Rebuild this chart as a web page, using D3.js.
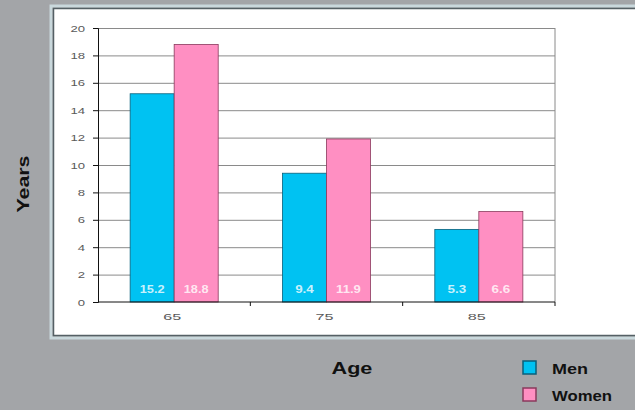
<!DOCTYPE html>
<html>
<head>
<meta charset="utf-8">
<script src="https://cdn.jsdelivr.net/npm/d3@7"></script>
<style>
  body { margin: 0; background: #a3a5a8; }
  svg { display: block; font-family: Arial, "Liberation Sans", sans-serif; }
  .grid line { stroke: #8a8a8a; }
  .grid path { display: none; }
  .axis text { fill: #5a5a5a; font-size: 9.5px; }
</style>
</head>
<body>
<div id="chart"></div>
<script>
const ages = ['65', '75', '85']
const men = [15.2, 9.4, 5.3]
const women = [18.8, 11.9, 6.6]
const yTicks = [0, 2, 4, 6, 8, 10, 12, 14, 16, 18, 20]
const seriesNames = ['Men', 'Women']
const colors = ['#00c2f2', '#ff8fc2']
const strokes = ['#0a5f7a', '#8a3a5c']

const width = 635
const height = 410
const plot = { left: 98, right: 555, top: 28, bottom: 302 }

// the source lettering is wide, so stretch text horizontally
function widen (sel, perChar) {
  sel.attr('textLength', function () { return this.textContent.length * perChar })
    .attr('lengthAdjust', 'spacingAndGlyphs')
}

const svg = d3.select('#chart').append('svg')
  .attr('width', width)
  .attr('height', height)

svg.append('rect')
  .attr('width', width).attr('height', height)
  .attr('fill', '#a3a5a8')

// white panel with double border
svg.append('rect')
  .attr('x', 51).attr('y', 6).attr('width', 600).attr('height', 332)
  .attr('fill', 'none').attr('stroke', '#c9d8dc').attr('stroke-width', 3)
svg.append('rect')
  .attr('x', 53.5).attr('y', 8.5).attr('width', 600).attr('height', 327)
  .attr('fill', '#fff').attr('stroke', '#556065').attr('stroke-width', 1.5)

const x = d3.scaleBand()
  .domain(ages)
  .range([plot.left, plot.right])

const x1 = d3.scaleBand()
  .domain(seriesNames)
  .range([0, x.bandwidth()])
  .paddingOuter(0.73)

const y = d3.scaleLinear()
  .domain([0, 20])
  .range([plot.bottom, plot.top])

// gridlines
svg.append('g')
  .attr('class', 'grid')
  .attr('transform', 'translate(' + plot.left + ',0)')
  .call(d3.axisRight(y).tickValues(yTicks.slice(1)).tickSize(plot.right - plot.left).tickFormat(''))

svg.append('line')
  .attr('x1', plot.right).attr('x2', plot.right)
  .attr('y1', plot.top).attr('y2', plot.bottom)
  .attr('stroke', '#8a8a8a')

// bars
const groups = svg.selectAll('.age')
  .data(ages)
  .enter().append('g')
  .attr('class', 'age')
  .attr('transform', function (d) { return 'translate(' + x(d) + ',0)' })

groups.selectAll('rect')
  .data(function (d, i) { return [men[i], women[i]] })
  .enter().append('rect')
  .attr('x', function (d, j) { return x1(seriesNames[j]) })
  .attr('y', function (d) { return y(d) })
  .attr('width', x1.bandwidth())
  .attr('height', function (d) { return y(0) - y(d) })
  .attr('fill', function (d, j) { return colors[j] })
  .attr('stroke', function (d, j) { return strokes[j] })
  .attr('stroke-width', 0.8)

groups.selectAll('text')
  .data(function (d, i) { return [men[i], women[i]] })
  .enter().append('text')
  .attr('x', function (d, j) { return x1(seriesNames[j]) + x1.bandwidth() / 2 })
  .attr('y', y(0) - 9)
  .attr('text-anchor', 'middle')
  .attr('fill', '#fff')
  .attr('fill-opacity', 0.8)
  .attr('font-size', '10px')
  .attr('font-weight', 'bold')
  .text(function (d) { return d.toFixed(1) })
  .call(widen, 6.2)

// axes
const yAxis = svg.append('g')
  .attr('class', 'axis')
  .attr('transform', 'translate(' + plot.left + ',0)')
  .call(d3.axisLeft(y).tickValues(yTicks).tickSize(5).tickPadding(8))
yAxis.selectAll('line, path').attr('stroke', '#111')
yAxis.selectAll('text').call(widen, 7.3)

const xAxis = svg.append('g')
  .attr('class', 'axis')
  .attr('transform', 'translate(' + (-2) + ',' + plot.bottom + ')')
  .call(d3.axisBottom(x).tickSize(0).tickPadding(11))
xAxis.select('path').attr('stroke', '#111').attr('d', 'M' + (plot.left + 2) + ',0H' + (plot.right + 2))
xAxis.selectAll('text').call(widen, 9)

// small separators between categories
xAxis.selectAll('.sep')
  .data(ages.slice(1).concat(['end']))
  .enter().append('line')
  .attr('x1', function (d) { return d === 'end' ? plot.right + 2 : x(d) + 2 })
  .attr('x2', function (d) { return d === 'end' ? plot.right + 2 : x(d) + 2 })
  .attr('y1', 0).attr('y2', 4)
  .attr('stroke', '#111')

// titles
svg.append('text')
  .attr('transform', 'translate(29,184) rotate(-90)')
  .attr('text-anchor', 'middle')
  .attr('font-size', '17px')
  .attr('font-weight', 'bold')
  .attr('fill', '#111')
  .text('Years')
  .call(widen, 11.4)

svg.append('text')
  .attr('x', 352).attr('y', 374)
  .attr('text-anchor', 'middle')
  .attr('font-size', '16px')
  .attr('font-weight', 'bold')
  .attr('fill', '#111')
  .text('Age')
  .call(widen, 13.6)

// legend
const legend = svg.selectAll('.legend')
  .data(seriesNames)
  .enter().append('g')
  .attr('class', 'legend')
  .attr('transform', function (d, i) { return 'translate(523,' + (361 + i * 27) + ')' })

legend.append('rect')
  .attr('width', 13).attr('height', 13)
  .attr('fill', function (d, i) { return colors[i] })
  .attr('stroke', function (d, i) { return strokes[i] })
  .attr('stroke-width', 1.5)

legend.append('text')
  .attr('x', 29).attr('y', 13)
  .attr('font-size', '15px')
  .attr('font-weight', 'bold')
  .attr('fill', '#111')
  .text(function (d) { return d })
  .call(widen, 12)
</script>
</body>
</html>
